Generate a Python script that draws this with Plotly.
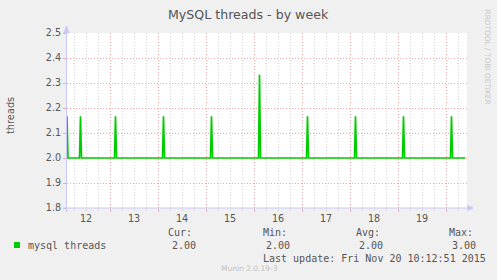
import plotly.graph_objects as go

# ---- data ----
title_text = "MySQL threads - by week"
y_label = "threads"
series_name = "mysql threads"

times = [
    "2015-11-12 02:30", "2015-11-12 03:00",
    "2015-11-12 08:45", "2015-11-12 09:15", "2015-11-12 09:45",
    "2015-11-13 02:15", "2015-11-13 02:45", "2015-11-13 03:15",
    "2015-11-14 02:15", "2015-11-14 02:45", "2015-11-14 03:15",
    "2015-11-15 02:15", "2015-11-15 02:45", "2015-11-15 03:15",
    "2015-11-16 02:15", "2015-11-16 02:45", "2015-11-16 03:15",
    "2015-11-17 02:15", "2015-11-17 02:45", "2015-11-17 03:15",
    "2015-11-18 02:15", "2015-11-18 02:45", "2015-11-18 03:15",
    "2015-11-19 02:15", "2015-11-19 02:45", "2015-11-19 03:15",
    "2015-11-20 02:15", "2015-11-20 02:45", "2015-11-20 03:15",
    "2015-11-20 09:30",
]
values = [
    2.167, 2.0,
    2.0, 2.167, 2.0,
    2.0, 2.167, 2.0,
    2.0, 2.167, 2.0,
    2.0, 2.167, 2.0,
    2.0, 2.333, 2.0,
    2.0, 2.167, 2.0,
    2.0, 2.167, 2.0,
    2.0, 2.167, 2.0,
    2.0, 2.167, 2.0,
    2.0,
]
x_start = "2015-11-12 02:30"
x_end = "2015-11-20 10:30"
day_label_pos = ["2015-11-%02d 12:00" % d for d in range(12, 20)]
day_labels = ["12", "13", "14", "15", "16", "17", "18", "19"]
y_min, y_max = 1.8, 2.5

stat_names = ["Cur:", "Min:", "Avg:", "Max:"]
stat_values = ["2.00", "2.00", "2.00", "3.00"]
last_update = "Last update: Fri Nov 20 10:12:51 2015"
footer = "Munin 2.0.19-3"
watermark = "RRDTOOL / TOBI OETIKER"

# ---- layout helpers (pixel -> paper) ----
L, R, T, B = 67, 30, 33, 72
WIDTH, HEIGHT = 497, 280
PW, PH = WIDTH - L - R, HEIGHT - T - B


def px(x):
    return (x - L) / PW


def py(y):
    return (HEIGHT - B - y) / PH


GREEN = "#00CC00"
TEXT = "#555555"
MGRID = "#F2A8A8"
GRID = "#D8D8D8"
AXIS = "#C8C8F8"
MONO = "DejaVu Sans Mono"
SANS = "DejaVu Sans"

fig = go.Figure()
fig.add_trace(go.Scatter(
    x=times, y=values, mode="lines", name=series_name,
    line=dict(color=GREEN, width=1.7), showlegend=False, hoverinfo="skip",
))
fig.add_trace(go.Scatter(
    x=[x_start, x_end], y=[None, None], xaxis="x2", mode="lines",
    showlegend=False, hoverinfo="skip",
))

fig.update_layout(
    width=WIDTH, height=HEIGHT,
    margin=dict(l=L, r=R, t=T, b=B),
    paper_bgcolor="#F0F0F0", plot_bgcolor="#FFFFFF",
    xaxis=dict(
        type="date", range=[x_start, x_end],
        tickmode="linear", tick0="2015-11-13 00:00", dtick=86400000,
        showticklabels=False, showgrid=True, gridcolor=MGRID,
        griddash="1px,2px", gridwidth=1,
        ticks="outside", ticklen=3, tickcolor=MGRID,
        minor=dict(tickmode="linear", tick0="2015-11-13 00:00",
                   dtick=6 * 3600000, showgrid=True, gridcolor=GRID,
                   griddash="1px,2px", ticks="outside", ticklen=2,
                   tickcolor=GRID),
        showline=False, zeroline=False, fixedrange=True,
    ),
    xaxis2=dict(
        type="date", range=[x_start, x_end], overlaying="x", side="bottom",
        anchor="y", tickmode="array", tickvals=day_label_pos,
        ticktext=day_labels, showgrid=False, showline=False, ticks="",
        ticklabelstandoff=3,
        zeroline=False, tickfont=dict(family=SANS, size=9.6, color=TEXT),
    ),
    yaxis=dict(
        range=[y_min, y_max], tickmode="linear", tick0=y_min, dtick=0.1,
        tickformat=".1f", showgrid=True, gridcolor=MGRID,
        griddash="1px,2px", gridwidth=1,
        ticks="outside", ticklen=3, tickcolor=MGRID,
        tickfont=dict(family=SANS, size=9.6, color=TEXT),
        showline=False, zeroline=False, fixedrange=True,
    ),
)

shapes = [
    # left axis with arrow
    dict(type="line", xref="paper", yref="paper", x0=px(66.5), x1=px(66.5),
         y0=py(212), y1=py(30), line=dict(color=AXIS, width=1)),
    dict(type="path", xref="paper", yref="paper",
         path="M %f,%f L %f,%f L %f,%f Z" % (px(66.5), py(26), px(63.5), py(33),
                                             px(69.5), py(33)),
         fillcolor=AXIS, line=dict(color=AXIS, width=0.5)),
    # bottom axis with arrow
    dict(type="line", xref="paper", yref="paper", x0=px(63), x1=px(470),
         y0=py(208), y1=py(208), line=dict(color=AXIS, width=1)),
    dict(type="path", xref="paper", yref="paper",
         path="M %f,%f L %f,%f L %f,%f Z" % (px(473.5), py(208), px(467.5), py(205),
                                             px(467.5), py(211)),
         fillcolor=AXIS, line=dict(color=AXIS, width=0.5)),
    # legend swatch
    dict(type="rect", xref="paper", yref="paper", x0=px(14), x1=px(20),
         y0=py(248), y1=py(242), fillcolor=GREEN, line=dict(width=0)),
]

ann = []


def text(x, y, s, size, color=TEXT, family=MONO, xanchor="left", angle=0):
    ann.append(dict(xref="paper", yref="paper", x=px(x), y=py(y), text=s,
                    showarrow=False, xanchor=xanchor, yanchor="middle",
                    font=dict(family=family, size=size, color=color),
                    borderpad=0, textangle=angle))


text(248.5, 14, title_text, 12.6, family=SANS, xanchor="center")
text(10, 116, y_label, 9.8, family=SANS, xanchor="center", angle=-90)
text(487, 56.5, watermark, 7.4, color="#C8C8C8", family=SANS, xanchor="center", angle=90)
text(27, 245.5, series_name, 10)
stat_x = [167, 262, 355, 448]
val_x = [197, 291, 384, 477]
for sx, vx, n, v in zip(stat_x, val_x, stat_names, stat_values):
    text(sx, 232.5, n, 10)
    text(vx, 245.5, v, 10, xanchor="right")
text(262, 258, last_update, 10)
text(249.5, 268.5, footer, 7.5, color="#C0C0C0", family=SANS, xanchor="center")

fig.update_layout(shapes=shapes, annotations=ann)
fig.write_html("out.html")
